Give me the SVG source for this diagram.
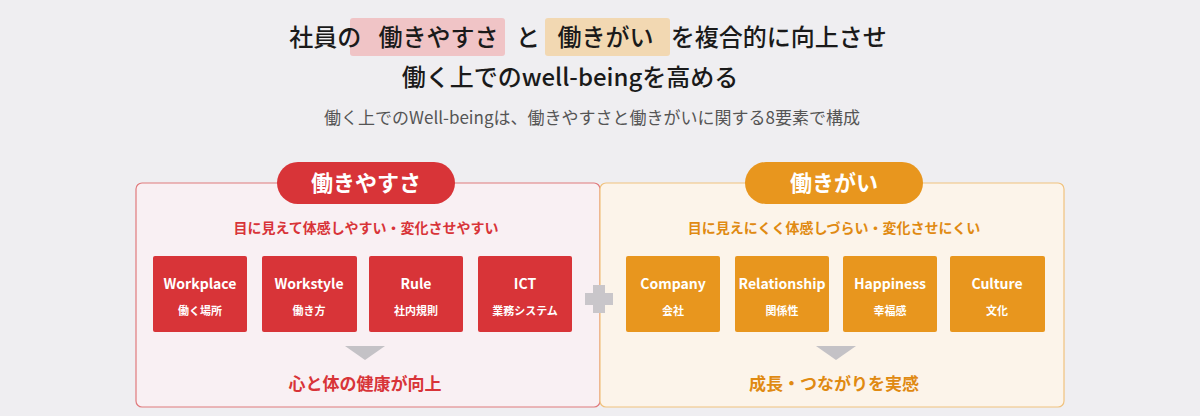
<svg xmlns="http://www.w3.org/2000/svg" width="1200" height="416" viewBox="0 0 1200 416">
<style>
text{font-family:"Noto Sans CJK JP","Noto Sans",sans-serif;text-anchor:middle}
.t1{font-size:24px;fill:#1a1a1a;font-weight:500}
.sub{font-size:17px;fill:#555}
.pill{font-size:22px;fill:#fff;font-weight:700}
.lead{font-size:14px;font-weight:700}
.bx-en{font-size:14px;fill:#fff;font-weight:700}
.bx-ja{font-size:11px;fill:#fff;font-weight:700}
.res{font-size:17px;font-weight:700}
.r{fill:#d83438}.o{fill:#e8961e}
</style>
<rect width="1200" height="416" fill="#efeef1"/>
<g id="title">
<rect x="350" y="18" width="155" height="38" rx="3" fill="#f0c4c6"/>
<rect x="545" y="18" width="125" height="38" rx="3" fill="#f2d8b2"/>
<text class="t1" x="588" y="46">社員の <tspan dx="12">働きやすさ</tspan> <tspan dx="12">と</tspan> <tspan dx="12">働きがい</tspan> <tspan dx="12">を複合的に向上させ</tspan></text>
<text class="t1" x="570" y="86">働く上でのwell-beingを高める</text>
<text class="sub" x="592" y="124">働く上でのWell-beingは、働きやすさと働きがいに関する8要素で構成</text>
</g>
<g id="left">
<rect x="136" y="183" width="464" height="224" rx="6" fill="#f9f0f3" stroke="#e07a7c" stroke-width="1.2"/>
<rect x="277" y="162" width="178" height="42" rx="21" class="r"/>
<text class="pill" x="366" y="191">働きやすさ</text>
<text class="lead" x="366" y="233" fill="#d83438">目に見えて体感しやすい・変化させやすい</text>
</g>
<g id="right">
<rect x="600" y="183" width="464" height="224" rx="6" fill="#fcf4ea" stroke="#f0c27e" stroke-width="1.2"/>
<rect x="745" y="162" width="178" height="42" rx="21" class="o"/>
<text class="pill" x="834" y="191">働きがい</text>
<text class="lead" x="834" y="233" fill="#e08a12">目に見えにくく体感しづらい・変化させにくい</text>
</g>
<g id="n-workplace"><rect x="153" y="256" width="94" height="76" rx="2" class="r"/><text class="bx-en" x="200" y="289">Workplace</text><text class="bx-ja" x="200" y="315">働く場所</text></g>
<g id="n-workstyle"><rect x="262" y="256" width="95" height="76" rx="2" class="r"/><text class="bx-en" x="309" y="289">Workstyle</text><text class="bx-ja" x="309" y="315">働き方</text></g>
<g id="n-rule"><rect x="369" y="256" width="94" height="76" rx="2" class="r"/><text class="bx-en" x="416" y="289">Rule</text><text class="bx-ja" x="416" y="315">社内規則</text></g>
<g id="n-ict"><rect x="478" y="256" width="94" height="76" rx="2" class="r"/><text class="bx-en" x="525" y="289">ICT</text><text class="bx-ja" x="525" y="315">業務システム</text></g>
<g id="n-company"><rect x="626" y="256" width="94" height="76" rx="2" class="o"/><text class="bx-en" x="673" y="289">Company</text><text class="bx-ja" x="673" y="315">会社</text></g>
<g id="n-relationship"><rect x="735" y="256" width="94" height="76" rx="2" class="o"/><text class="bx-en" x="782" y="289">Relationship</text><text class="bx-ja" x="782" y="315">関係性</text></g>
<g id="n-happiness"><rect x="843" y="256" width="94" height="76" rx="2" class="o"/><text class="bx-en" x="890" y="289">Happiness</text><text class="bx-ja" x="890" y="315">幸福感</text></g>
<g id="n-culture"><rect x="950" y="256" width="95" height="76" rx="2" class="o"/><text class="bx-en" x="997" y="289">Culture</text><text class="bx-ja" x="997" y="315">文化</text></g>
<g id="connectors">
<path d="M593 285h12v8h8v12h-8v8h-12v-8h-8v-12h8z" fill="#c9c6ca"/>
<polygon points="345,346 385,346 365,360" fill="#c4c2c6"/>
<polygon points="816,346 856,346 836,360" fill="#c4c2c6"/>
</g>
<text class="res" x="365" y="390" fill="#d83438">心と体の健康が向上</text>
<text class="res" x="834" y="390" fill="#e08a12">成長・つながりを実感</text>
</svg>
